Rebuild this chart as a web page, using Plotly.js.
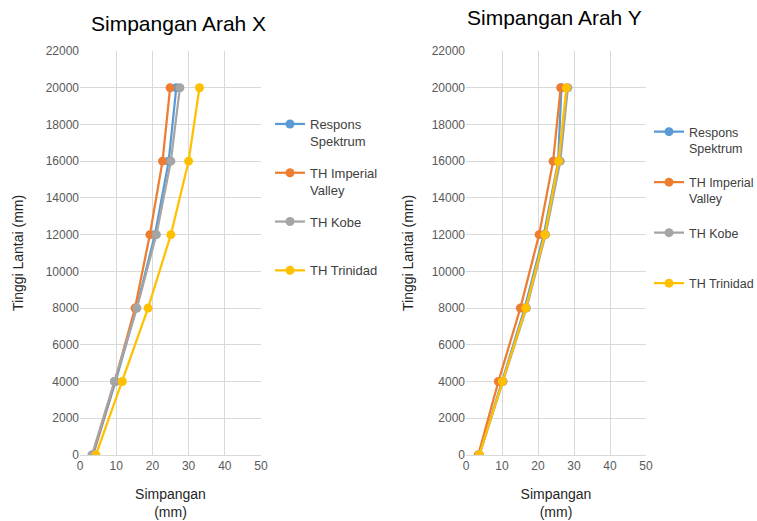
<!DOCTYPE html>
<html>
<head>
<meta charset="utf-8">
<script src="https://cdn.plot.ly/plotly-3.0.1.min.js"></script>
<style>html,body{margin:0;padding:0;background:#fff;}#chart{width:757px;height:521px;}</style>
</head>
<body>
<div id="chart"></div>
<script>
// Floor heights (mm)
const lantai = [0, 4000, 8000, 12000, 16000, 20000];
// Series names
const seriesNames = ["Respons<br>Spektrum", "TH Imperial<br>Valley", "TH Kobe<br> ", "TH Trinidad<br> "];
// Direction X displacements (mm)
const rsX    = [3.6, 9.8, 15.6, 20.7, 24.5, 26.6];
const ivX    = [3.5, 9.6, 15.2, 19.3, 22.8, 24.9];
const kobeX  = [3.3, 9.5, 15.7, 21.1, 25.1, 27.6];
const trinX  = [4.4, 11.7, 18.8, 25.1, 30.0, 33.0];
// Direction Y displacements (mm)
const rsY    = [3.7, 9.9, 16.3, 21.6, 25.6, 26.5];
const ivY    = [3.4, 9.0, 15.1, 20.3, 24.2, 26.3];
const kobeY  = [3.7, 10.3, 16.8, 22.1, 26.2, 28.3];
const trinY  = [3.7, 10.1, 16.6, 21.9, 25.7, 27.9];
const colors = ["#5B9BD5", "#ED7D31", "#A5A5A5", "#FFC000"];

const xSets = [rsX, ivX, kobeX, trinX];
const ySets = [rsY, ivY, kobeY, trinY];
const traces = [];
xSets.forEach((vals, i) => {
  traces.push({x: vals, y: lantai, xaxis: 'x', yaxis: 'y', name: seriesNames[i], legend: 'legend',
    legendgroup: 'a' + i, mode: 'lines+markers', line: {color: colors[i], width: 2.25},
    marker: {color: colors[i], size: 9}});
});
ySets.forEach((vals, i) => {
  traces.push({x: vals, y: lantai, xaxis: 'x2', yaxis: 'y2', name: seriesNames[i], legend: 'legend2',
    legendgroup: 'b' + i, mode: 'lines+markers', line: {color: colors[i], width: 2.25},
    marker: {color: colors[i], size: 9}});
});

const W = 757, H = 521;
const fx = p => p / W, fy = p => 1 - p / H;
const FAM = 'Liberation Sans, Arial, sans-serif';
const tickFont = {family: FAM, size: 12, color: '#595959'};
const axTitleFont = {family: FAM, size: 14, color: '#262626'};
function xa(d, anchor) {
  return {domain: d, anchor: anchor, range: [0, 50], dtick: 10, tick0: 0, showgrid: true, gridcolor: '#d9d9d9',
    gridwidth: 1, zeroline: false, showline: true, linecolor: '#d9d9d9', ticks: '', tickfont: tickFont,
    fixedrange: true, title: {text: 'Simpangan<br>(mm)', font: axTitleFont, standoff: 16}};
}
function ya(anchor) {
  return {domain: [fy(455), fy(51)], anchor: anchor, range: [0, 22000], dtick: 2000, tick0: 0, showgrid: true,
    gridcolor: '#d9d9d9', gridwidth: 1, zeroline: false, showline: false, ticks: '', tickfont: tickFont,
    tickformat: 'd', fixedrange: true};
}
const legFont = {family: FAM, size: 13, color: '#404040'};
const legFont2 = {family: FAM, size: 12.5, color: '#404040'};
const yTitle = 'Tinggi Lantai (mm)';
const layout = {
  width: W, height: H, margin: {l: 0, r: 0, t: 0, b: 0, autoexpand: false}, paper_bgcolor: '#fff', plot_bgcolor: '#fff',
  showlegend: true,
  xaxis: xa([fx(80), fx(261)], 'y'),
  yaxis: ya('x'),
  xaxis2: xa([fx(466), fx(646)], 'y2'),
  yaxis2: ya('x2'),
  legend: {xref: 'container', yref: 'container', x: fx(270), y: fy(109), xanchor: 'left', yanchor: 'top',
    font: legFont, valign: 'top', tracegroupgap: 12, bgcolor: 'rgba(0,0,0,0)', itemwidth: 30},
  legend2: {xref: 'container', yref: 'container', x: fx(649), y: fy(117), xanchor: 'left', yanchor: 'top',
    font: legFont2, valign: 'top', tracegroupgap: 15, bgcolor: 'rgba(0,0,0,0)', itemwidth: 30},
  annotations: [
    {text: 'Simpangan Arah X', xref: 'paper', yref: 'paper', x: fx(178), y: fy(24), xanchor: 'center',
      yanchor: 'middle', showarrow: false, font: {family: FAM, size: 21, color: '#000'}},
    {text: 'Simpangan Arah Y', xref: 'paper', yref: 'paper', x: fx(554), y: fy(17), xanchor: 'center',
      yanchor: 'middle', showarrow: false, font: {family: FAM, size: 21, color: '#000'}},
    {text: yTitle, xref: 'paper', yref: 'paper', x: fx(18), y: fy(253), xanchor: 'center', yanchor: 'middle',
      textangle: -90, showarrow: false, font: axTitleFont},
    {text: yTitle, xref: 'paper', yref: 'paper', x: fx(408), y: fy(253), xanchor: 'center', yanchor: 'middle',
      textangle: -90, showarrow: false, font: axTitleFont}
  ]
};
Plotly.newPlot('chart', traces, layout, {displayModeBar: false, staticPlot: true});
</script>
</body>
</html>
